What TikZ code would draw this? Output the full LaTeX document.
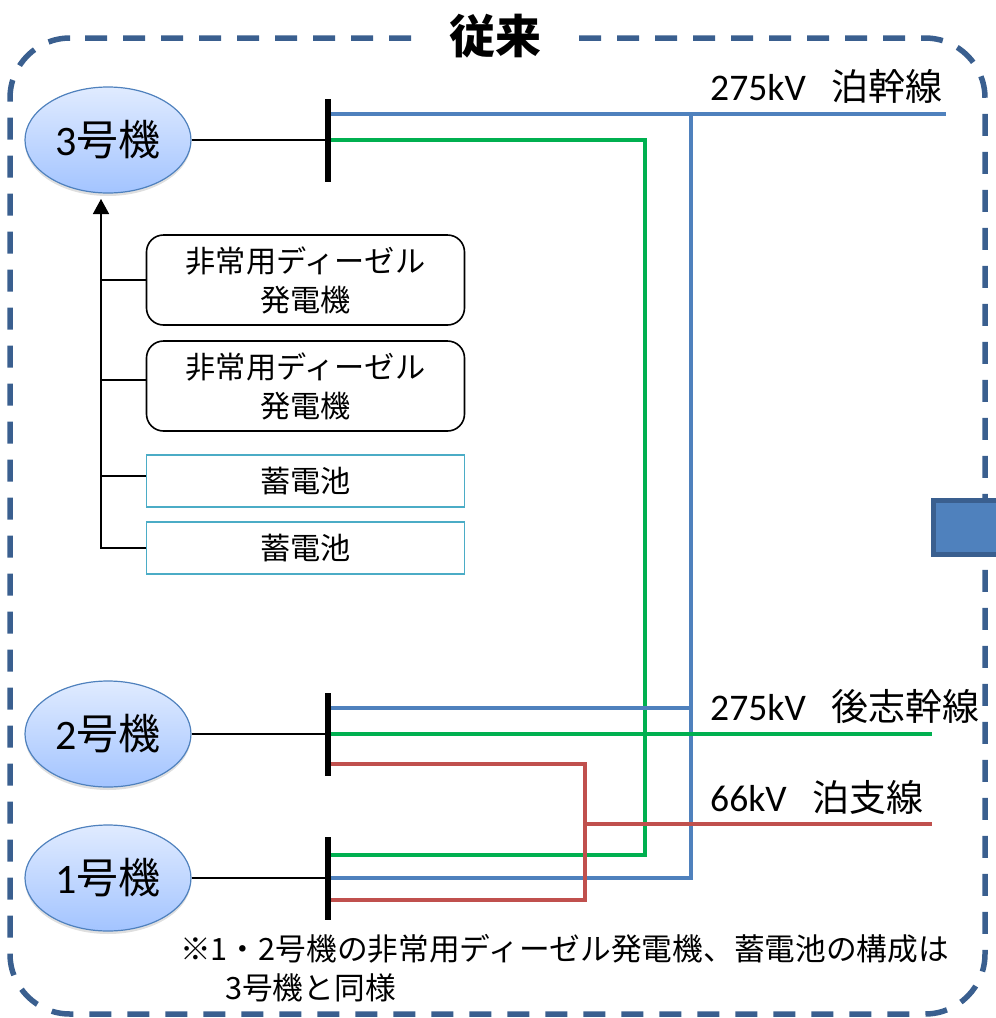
\documentclass[tikz,border=0pt]{standalone}
\usepackage{fontspec}
\setmainfont{Carlito}
\newfontfamily\jp{Noto Sans CJK JP}
\usetikzlibrary{shapes.geometric,shadows,arrows.meta}
\definecolor{lineblue}{HTML}{4F81BD}
\definecolor{linegreen}{HTML}{00B050}
\definecolor{linered}{HTML}{C0504D}
\definecolor{framenavy}{HTML}{3A5F8F}
\definecolor{battcyan}{HTML}{4BACC6}
\definecolor{unittop}{HTML}{E0EBFF}
\definecolor{unitlow}{HTML}{A3C4FF}
\tikzset{
	unit/.style={ellipse,draw=lineblue,line width=1.2pt,top color=unittop,bottom color=unitlow,minimum width=166pt,minimum height=106pt,inner sep=0pt,font=\fontsize{42}{42}\selectfont,drop shadow={opacity=.25,shadow xshift=0pt,shadow yshift=-3pt}},
	bus/.style={fill=black,minimum width=6pt,minimum height=83pt,inner sep=0pt},
	diesel/.style={draw=black,line width=1.6pt,rounded corners=17pt,minimum width=318pt,minimum height=90pt,align=center,inner sep=0pt,font=\jp\fontsize{30.2}{39}\selectfont},
	batt/.style={draw=battcyan,line width=1.2pt,minimum width=318pt,minimum height=52pt,inner sep=0pt,font=\jp\fontsize{30.2}{30}\selectfont},
	label/.style={anchor=west,inner sep=0pt,font=\fontsize{37.6}{37.6}\selectfont},
	note/.style={anchor=west,inner sep=0pt,font=\jp\fontsize{30.7}{30.7}\selectfont},
	feed/.style={line width=1.4pt,black},
	blueline/.style={line width=4pt,lineblue},
	greenline/.style={line width=4pt,linegreen},
	redline/.style={line width=4pt,linered}
}

\begin{document}
\begin{tikzpicture}[x=1pt,y=-1pt]
	\clip[use as bounding box] (0,0) rectangle (996,1018);
	% frame
	\draw[framenavy,line width=5.5pt,dash pattern=on 22pt off 16pt,rounded corners=60pt] (85,38) -- (985,38) -- (985,1014) -- (10,1014) -- (10,38) -- (85,38);
	\node[fill=white,minimum width=150pt,minimum height=50pt,inner sep=0pt,font=\jp\bfseries\fontsize{46}{46}\selectfont] (title) at (495,36) {従来};
	\node[draw=framenavy,line width=5pt,fill=lineblue,minimum width=80pt,minimum height=54pt,inner sep=0pt] (sidebox) at (973,527) {};

	\node[unit] (unit3) at (108,140) {3{\jp 号機}};
	\node[unit] (unit2) at (108,734) {2{\jp 号機}};
	\node[unit] (unit1) at (108,878) {1{\jp 号機}};
	\node[bus] (bus3) at (328,140) {};
	\node[bus] (bus2) at (328,734) {};
	\node[bus] (bus1) at (328,878) {};
	\draw[feed] (unit3) -- (bus3);
	\draw[feed] (unit2) -- (bus2);
	\draw[feed] (unit1) -- (bus1);

	\node[diesel] (dieselA) at (305.5,280) {非常用ディーゼル\\発電機};
	\node[diesel] (dieselB) at (305.5,386) {非常用ディーゼル\\発電機};
	\node[batt] (battA) at (305.5,481) {蓄電池};
	\node[batt] (battB) at (305.5,548) {蓄電池};
	\coordinate (tapA) at (101,280);
	\coordinate (tapB) at (101,380);
	\coordinate (tapC) at (101,476);
	\coordinate (corner) at (101,548);
	\coordinate (tip) at (101,199);
	\draw[-{Triangle[length=15pt,width=16pt]},line width=1.6pt] (battB) -- (corner) -- (tip);
	\draw[feed] (dieselA) -- (tapA);
	\draw[feed] (dieselB.west |- tapB) -- (tapB);
	\draw[feed] (battA.west |- tapC) -- (tapC);

	\coordinate (tomari) at (946,114);
	\coordinate (greenTop) at (645,140);
	\coordinate (greenLow) at (645,855);
	\coordinate (blueTop) at (691,114);
	\coordinate (blueMid) at (691,708);
	\coordinate (blueLow) at (691,878);
	\coordinate (shiribeshi) at (932,734);
	\coordinate (redTop) at (585,764);
	\coordinate (redMid) at (585,824);
	\coordinate (redLow) at (585,900);
	\coordinate (branch) at (932,824);

	\draw[blueline] (331,114) -- (tomari);
	\draw[greenline] (331,140) -- (greenTop) -- (greenLow) -- (331,855);
	\draw[blueline] (blueTop) -- (blueLow) -- (331,878);
	\draw[blueline] (331,708) -- (blueMid);
	\draw[greenline] (331,734) -- (shiribeshi);
	\draw[redline] (331,764) -- (redTop) -- (redLow) -- (331,900);
	\draw[redline] (redMid) -- (branch);

	\node[label] (labTomari) at (710,86) {275kV\hspace{26pt}{\jp\fontsize{37}{37}\selectfont 泊幹線}};
	\node[label] (labShiri) at (710,706) {275kV\hspace{26pt}{\jp\fontsize{37}{37}\selectfont 後志幹線}};
	\node[label] (labBranch) at (710,797) {66kV\hspace{26pt}{\jp\fontsize{37}{37}\selectfont 泊支線}};
	\node[note] (noteA) at (180,949) {※1・2号機の非常用ディーゼル発電機、蓄電池の構成は};
	\node[note] (noteB) at (225,988) {3号機と同様};
\end{tikzpicture}
\end{document}
